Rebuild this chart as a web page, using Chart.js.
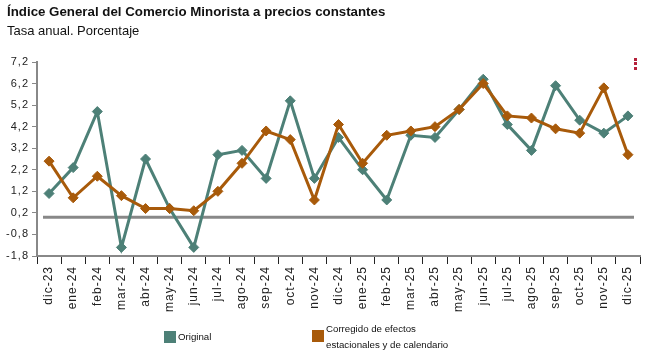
<!DOCTYPE html>
<html>
<head>
<meta charset="utf-8">
<script src="https://cdn.jsdelivr.net/npm/chart.js@4"></script>
<style>
  body { margin: 0; background: #fff; font-family: "Liberation Sans", Arial, sans-serif; }
  #wrap { position: relative; width: 662px; height: 360px; }
  #chart { position: absolute; left: 0; top: 0; }
  .title { position: absolute; left: 7px; top: 4px; font-size: 13.3px; font-weight: bold; color: #111; }
  .subtitle { position: absolute; left: 7px; top: 23px; font-size: 13px; color: #111; }
  .menu { position: absolute; left: 634px; width: 3px; height: 3px; background: #b5203a; }
  .sw { position: absolute; width: 12px; height: 12px; }
  .lg { position: absolute; font-size: 9.7px; color: #111; line-height: 16px; }
</style>
</head>
<body>
<div id="wrap">
  <canvas id="chart" width="662" height="360"></canvas>
  <div class="title">Índice General del Comercio Minorista a precios constantes</div>
  <div class="subtitle">Tasa anual. Porcentaje</div>
  <div class="menu" style="top:58px"></div>
  <div class="menu" style="top:62px"></div>
  <div class="menu" style="top:67px"></div>
  <div class="sw" style="left:164px; top:331px; background:#4d8077"></div>
  <div class="lg" style="left:178px; top:329px">Original</div>
  <div class="sw" style="left:312px; top:330px; background:#a85a0a"></div>
  <div class="lg" style="left:326px; top:321px">Corregido de efectos<br>estacionales y de calendario</div>
</div>
<script>
const months = ["dic-23", "ene-24", "feb-24", "mar-24", "abr-24", "may-24", "jun-24", "jul-24",
  "ago-24", "sep-24", "oct-24", "nov-24", "dic-24", "ene-25", "feb-25", "mar-25", "abr-25",
  "may-25", "jun-25", "jul-25", "ago-25", "sep-25", "oct-25", "nov-25", "dic-25"];
const original = [1.1, 2.3, 4.9, -1.4, 2.7, 0.4, -1.4, 2.9, 3.1, 1.8, 5.4, 1.8, 3.7,
  2.2, 0.8, 3.8, 3.7, 5.0, 6.4, 4.3, 3.1, 6.1, 4.5, 3.9, 4.7];
const corregido = [2.6, 0.9, 1.9, 1.0, 0.4, 0.4, 0.3, 1.2, 2.5, 4.0, 3.6, 0.8, 4.3,
  2.5, 3.8, 4.0, 4.2, 5.0, 6.2, 4.7, 4.6, 4.1, 3.9, 6.0, 2.9];
const yTicks = [-1.8, -0.8, 0.2, 1.2, 2.2, 3.2, 4.2, 5.2, 6.2, 7.2];

// horizontal reference line at 0
const zeroLine = {
  id: "zeroLine",
  beforeDatasetsDraw(chart) {
    const { ctx, chartArea, scales } = chart;
    const y = scales.y.getPixelForValue(0);
    ctx.save();
    ctx.strokeStyle = "#888";
    ctx.lineWidth = 3;
    ctx.beginPath();
    ctx.moveTo(chartArea.left + 6, y);
    ctx.lineTo(chartArea.right - 6, y);
    ctx.stroke();
    ctx.restore();
  },
};

const spacing = {
  id: "spacing",
  beforeDraw(chart) { chart.ctx.letterSpacing = "1px"; },
  afterDraw(chart) { chart.ctx.letterSpacing = "0px"; },
};

const ctx = document.getElementById("chart").getContext("2d");
new Chart(ctx, {
  type: "line",
  data: {
    labels: months,
    datasets: [
      {
        label: "Original",
        data: original,
        borderColor: "#4d8077",
        backgroundColor: "#4d8077",
        borderWidth: 3,
        pointStyle: "rectRot",
        pointRadius: 5,
        pointBorderWidth: 1,
        order: 1,
      },
      {
        label: "Corregido de efectos estacionales y de calendario",
        data: corregido,
        borderColor: "#a85a0a",
        backgroundColor: "#a85a0a",
        borderWidth: 3,
        pointStyle: "rectRot",
        pointRadius: 5,
        pointBorderWidth: 1,
        order: 0,
      },
    ],
  },
  options: {
    responsive: false,
    animation: false,
    devicePixelRatio: 1,
    layout: { padding: { top: 62, right: 22, left: 0, bottom: 0 } },
    plugins: { legend: { display: false }, tooltip: { enabled: false } },
    scales: {
      x: {
        offset: true,
        afterFit(scale) { scale.height = 104; },
        grid: { drawOnChartArea: false, offset: true, tickLength: 8, tickColor: "#222", tickWidth: 1 },
        border: { color: "#888", width: 2 },
        ticks: {
          autoSkip: false, minRotation: 90, maxRotation: 90, padding: 2,
          color: "#222", font: { family: "Liberation Sans", size: 12 },
        },
      },
      y: {
        min: -1.8,
        max: 7.2,
        afterFit(scale) { scale.width = 37; },
        afterBuildTicks(scale) { scale.ticks = yTicks.map((v) => ({ value: v })); },
        grid: { drawOnChartArea: false, tickLength: 5, tickColor: "#888" },
        border: { color: "#888", width: 2 },
        ticks: {
          padding: 3, color: "#222", font: { family: "Liberation Sans", size: 11 },
          callback: (v) => v.toFixed(1).replace(".", ","),
        },
      },
    },
  },
  plugins: [zeroLine, spacing],
});
</script>
</body>
</html>
